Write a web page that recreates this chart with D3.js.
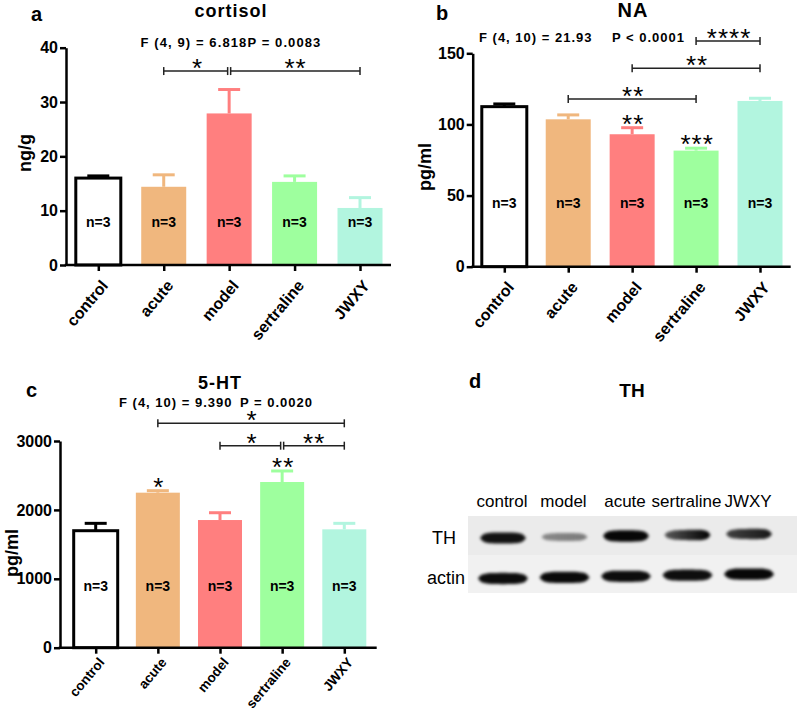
<!DOCTYPE html>
<html>
<head>
<meta charset="utf-8">
<script src="https://cdn.jsdelivr.net/npm/d3@7"></script>
<style>
  html, body { margin: 0; padding: 0; background: #fff; }
  svg { display: block; }
</style>
</head>
<body>
<svg id="chart" width="797" height="713"></svg>
<script>
const FONT = '"Liberation Sans", Arial, Helvetica, sans-serif';

// data
const groups = ['control', 'acute', 'model', 'sertraline', 'JWXY'];

const cortisolMean = [16.0, 14.4, 27.9, 15.3, 10.5];
const cortisolSem = [0.4, 2.2, 4.4, 1.1, 1.9];
const cortisolTicks = [0, 10, 20, 30, 40];
const cortisolSig = [
  ['acute', 'model', 35.7, '*'],
  ['model', 'JWXY', 35.7, '**'],
];
const cortisolMarks = [null, null, null, null, null];

const naMean = [112.5, 103.6, 93.1, 81.6, 116.5];
const naSem = [1.9, 3.1, 4.6, 1.7, 1.9];
const naTicks = [0, 50, 100, 150];
const naSig = [
  ['acute', 'sertraline', 117.9, '**'],
  ['model', 'JWXY', 139.5, '**'],
  ['sertraline', 'JWXY', 158.7, '****'],
];
const naMarks = [null, null, '**', '***', null];

const htMean = [1698, 2250, 1853, 2405, 1718];
const htSem = [107, 29, 106, 160, 87];
const htTicks = [0, 1000, 2000, 3000];
const htSig = [
  ['acute', 'JWXY', 3257, '*'],
  ['model', 'sertraline', 2932, '*'],
  ['sertraline', 'JWXY', 2932, '**'],
];
const htMarks = [null, '*', null, '**', null];

// western blot lanes (band darkness 0..1, left / right half)
const blotLanes = ['control', 'model', 'acute', 'sertraline', 'JWXY'];
const thLeft = [0.92, 0.42, 0.97, 0.62, 0.72];
const thRight = [0.92, 0.48, 0.97, 1.0, 0.9];
const actinLeft = [0.95, 0.96, 0.95, 0.94, 0.97];
const actinRight = [0.95, 0.96, 0.95, 0.94, 0.97];

const barColors = {
  control: '#ffffff',
  acute: '#f0b77e',
  model: '#ff7f7f',
  sertraline: '#9eff9e',
  JWXY: '#b2f5df',
};

const svg = d3.select('#chart')
  .style('font-family', FONT);

const defs = svg.append('defs');
defs.append('filter')
  .attr('id', 'bandBlur')
  .attr('x', '-20%').attr('y', '-80%')
  .attr('width', '140%').attr('height', '260%')
  .append('feGaussianBlur')
  .attr('stdDeviation', 1.6);

function boldText(g, x, y, txt, size, anchor = 'start', spacing = 0) {
  return g.append('text')
    .attr('x', x)
    .attr('y', y)
    .attr('text-anchor', anchor)
    .style('font-size', size + 'px')
    .style('font-weight', 'bold')
    .style('letter-spacing', spacing + 'px')
    .text(txt);
}

// asterisks are drawn in the regular weight, a bit larger
function starText(g, x, centerY, txt) {
  return g.append('text')
    .attr('x', x)
    .attr('y', centerY + 15)
    .attr('text-anchor', 'middle')
    .style('font-size', '26px')
    .style('letter-spacing', '1px')
    .text(txt);
}

function drawBarPanel(opts) {
  const g = svg.append('g');
  const means = opts.means;
  const sems = opts.sems;

  const y = d3.scaleLinear().domain(opts.domain).range([opts.y0, opts.yTop]);
  const x = d3.scalePoint().domain(groups).range([opts.xFirst, opts.xLast]);
  const bw = opts.barWidth;

  // bars
  g.selectAll('rect.bar')
    .data(groups)
    .enter()
    .append('rect')
      .classed('bar', true)
      .attr('x', d => x(d) - bw / 2)
      .attr('y', (d, i) => y(means[i]))
      .attr('width', bw)
      .attr('height', (d, i) => opts.y0 - y(means[i]))
      .style('fill', d => barColors[d])
      .style('stroke', d => (d === 'control' ? '#000' : 'none'))
      .style('stroke-width', 3);

  // SEM error bars (upper half only)
  groups.forEach((d, i) => {
    let col = d === 'control' ? '#000' : barColors[d];
    let top = y(means[i] + sems[i]);
    g.append('line')
      .attr('x1', x(d)).attr('x2', x(d))
      .attr('y1', y(means[i])).attr('y2', top)
      .style('stroke', col).style('stroke-width', 3);
    g.append('line')
      .attr('x1', x(d) - 11).attr('x2', x(d) + 11)
      .attr('y1', top).attr('y2', top)
      .style('stroke', col).style('stroke-width', 3);

    boldText(g, x(d), y(opts.nLabelAt) + 5, 'n=3', 14, 'middle');

    if (opts.marks[i]) {
      starText(g, x(d) + 1, top - 10, opts.marks[i]);
    }
  });

  // axes
  let yAxis = d3.axisLeft(y)
    .tickValues(opts.ticks)
    .tickFormat(d3.format('d'))
    .tickSize(6)
    .tickSizeOuter(0)
    .tickPadding(2);

  let yG = g.append('g')
    .attr('transform', `translate(${opts.axisX}, 0)`)
    .call(yAxis);
  yG.selectAll('path, line').style('stroke', '#000').style('stroke-width', 2.5);
  yG.selectAll('text')
    .style('font-family', FONT)
    .style('font-size', '16px')
    .style('font-weight', 'bold')
    .style('fill', '#000');

  let xAxis = d3.axisBottom(x)
    .tickSize(6)
    .tickSizeOuter(0);

  let xG = g.append('g')
    .attr('transform', `translate(0, ${opts.y0})`)
    .call(xAxis);
  xG.select('path.domain').remove();
  xG.selectAll('line').style('stroke', '#000').style('stroke-width', 2.5);
  xG.selectAll('text')
    .attr('x', 0).attr('y', 0).attr('dy', null)
    .attr('text-anchor', 'end')
    .attr('transform', `translate(${opts.xLabelDx}, ${opts.xLabelDy}) rotate(-50)`)
    .style('font-family', FONT)
    .style('font-size', opts.xLabelSize + 'px')
    .style('font-weight', 'bold')
    .style('fill', '#000');

  g.append('line')
    .attr('x1', opts.axisX - 1.25).attr('x2', opts.xEnd)
    .attr('y1', opts.y0).attr('y2', opts.y0)
    .style('stroke', '#000').style('stroke-width', 2.5);

  // significance brackets
  opts.sig.forEach(s => {
    let [from, to, level, label] = s;
    let ly = y(level);
    let shares = (a) => opts.sig.some(o => o !== s && o[2] === level && (o[0] === a || o[1] === a));
    let x1 = x(from) + (shares(from) ? 1.5 : 0);
    let x2 = x(to) - (shares(to) ? 1.5 : 0);
    g.append('line')
      .attr('x1', x1).attr('x2', x2).attr('y1', ly).attr('y2', ly)
      .style('stroke', '#222').style('stroke-width', 1.5);
    [x1, x2].forEach(xx => {
      g.append('line')
        .attr('x1', xx).attr('x2', xx).attr('y1', ly - 4).attr('y2', ly + 4)
        .style('stroke', '#222').style('stroke-width', 1.5);
    });
    starText(g, (x(from) + x(to)) / 2 + 1, ly - 9, label);
  });

  // y label
  g.append('text')
    .attr('transform', `translate(${opts.yLabelX}, ${opts.yLabelY}) rotate(-90)`)
    .attr('text-anchor', 'middle')
    .style('font-size', '18px')
    .style('font-weight', 'bold')
    .text(opts.yLabel);

  return g;
}

// panel a
let gA = drawBarPanel({
  means: cortisolMean, sems: cortisolSem, ticks: cortisolTicks, sig: cortisolSig, marks: cortisolMarks,
  domain: [0, 40], y0: 265, yTop: 47.7, xFirst: 98.3, xLast: 360, axisX: 66, xEnd: 391,
  barWidth: 45, nLabelAt: 8, yLabel: 'ng/g', yLabelX: 31, yLabelY: 153,
  xLabelSize: 16, xLabelDx: 10, xLabelDy: 21,
});
boldText(gA, 31, 21, 'a', 20);
boldText(gA, 231, 17, 'cortisol', 18, 'middle', 1);
boldText(gA, 231, 47, 'F (4, 9) = 6.818P = 0.0083', 13, 'middle', 1.1);

// panel b
let gB = drawBarPanel({
  means: naMean, sems: naSem, ticks: naTicks, sig: naSig, marks: naMarks,
  domain: [0, 150], y0: 266.7, yTop: 53.3, xFirst: 504.3, xLast: 760, axisX: 472.7, xEnd: 790.7,
  barWidth: 45, nLabelAt: 45, yLabel: 'pg/ml', yLabelX: 431, yLabelY: 167,
  xLabelSize: 16, xLabelDx: 10, xLabelDy: 21,
});
boldText(gB, 436, 20, 'b', 20);
boldText(gB, 633, 17, 'NA', 20, 'middle', 1);
boldText(gB, 479, 42, 'F (4, 10) = 21.93', 13, 'start', 1);
boldText(gB, 612, 42, 'P < 0.0001', 13, 'start', 1);

// panel c
let gC = drawBarPanel({
  means: htMean, sems: htSem, ticks: htTicks, sig: htSig, marks: htMarks,
  domain: [0, 3000], y0: 647.7, yTop: 441, xFirst: 95.7, xLast: 344.3, axisX: 60, xEnd: 376.7,
  barWidth: 44, nLabelAt: 900, yLabel: 'pg/ml', yLabelX: 18, yLabelY: 553,
  xLabelSize: 13.5, xLabelDx: 9, xLabelDy: 15,
});
boldText(gC, 26, 397, 'c', 20);
boldText(gC, 220, 389, '5-HT', 18, 'middle', 1);
boldText(gC, 119, 407, 'F (4, 10) = 9.390', 13, 'start', 1);
boldText(gC, 240, 407, 'P = 0.0020', 13, 'start', 1);

// panel d: western blot
const gD = svg.append('g');
boldText(gD, 469, 388, 'd', 20);
boldText(gD, 632, 397, 'TH', 19, 'middle');

const laneX = d3.scalePoint().domain(blotLanes).range([503, 749]);

gD.append('rect').attr('x', 468).attr('y', 516).attr('width', 329).attr('height', 39)
  .style('fill', '#ebebeb');
gD.append('rect').attr('x', 468).attr('y', 555).attr('width', 329).attr('height', 38)
  .style('fill', '#f1f1f1');

gD.selectAll('text.lane')
  .data(blotLanes)
  .enter()
  .append('text')
    .classed('lane', true)
    .attr('x', d => laneX(d) - 1)
    .attr('y', 507)
    .attr('text-anchor', 'middle')
    .style('font-size', '17px')
    .text(d => d);

gD.append('text').attr('x', 444).attr('y', 544).attr('text-anchor', 'middle')
  .style('font-size', '18px').text('TH');
gD.append('text').attr('x', 446).attr('y', 584).attr('text-anchor', 'middle')
  .style('font-size', '18px').text('actin');

const bandArea = d3.area()
  .x(p => p.x)
  .y0(p => p.y - p.h)
  .y1(p => p.y + p.h)
  .curve(d3.curveBasis);

function drawBand(lane, cy, width, left, right, id) {
  let cx = laneX(lane);
  let pts = d3.range(0, 21).map(k => {
    let u = k / 20;
    let t = left + (right - left) * u;
    let shape = Math.sqrt(Math.max(0, 1 - Math.pow(Math.abs(2 * u - 1), 4)));
    return { x: cx - width / 2 + width * u, y: cy, h: (2.4 + 3.4 * t) * shape };
  });
  let grad = defs.append('linearGradient').attr('id', id)
    .attr('x1', '0%').attr('x2', '100%');
  grad.append('stop').attr('offset', '0%').attr('stop-color', '#000').attr('stop-opacity', left);
  grad.append('stop').attr('offset', '100%').attr('stop-color', '#000').attr('stop-opacity', right);
  gD.append('path')
    .attr('d', bandArea(pts))
    .style('fill', `url(#${id})`)
    .attr('filter', 'url(#bandBlur)');
}

blotLanes.forEach((lane, i) => {
  drawBand(lane, 538 - i, 46, thLeft[i], thRight[i], 'th' + i);
  drawBand(lane, 578.5 - i * 1.1, 50, actinLeft[i], actinRight[i], 'ac' + i);
});
</script>
</body>
</html>
